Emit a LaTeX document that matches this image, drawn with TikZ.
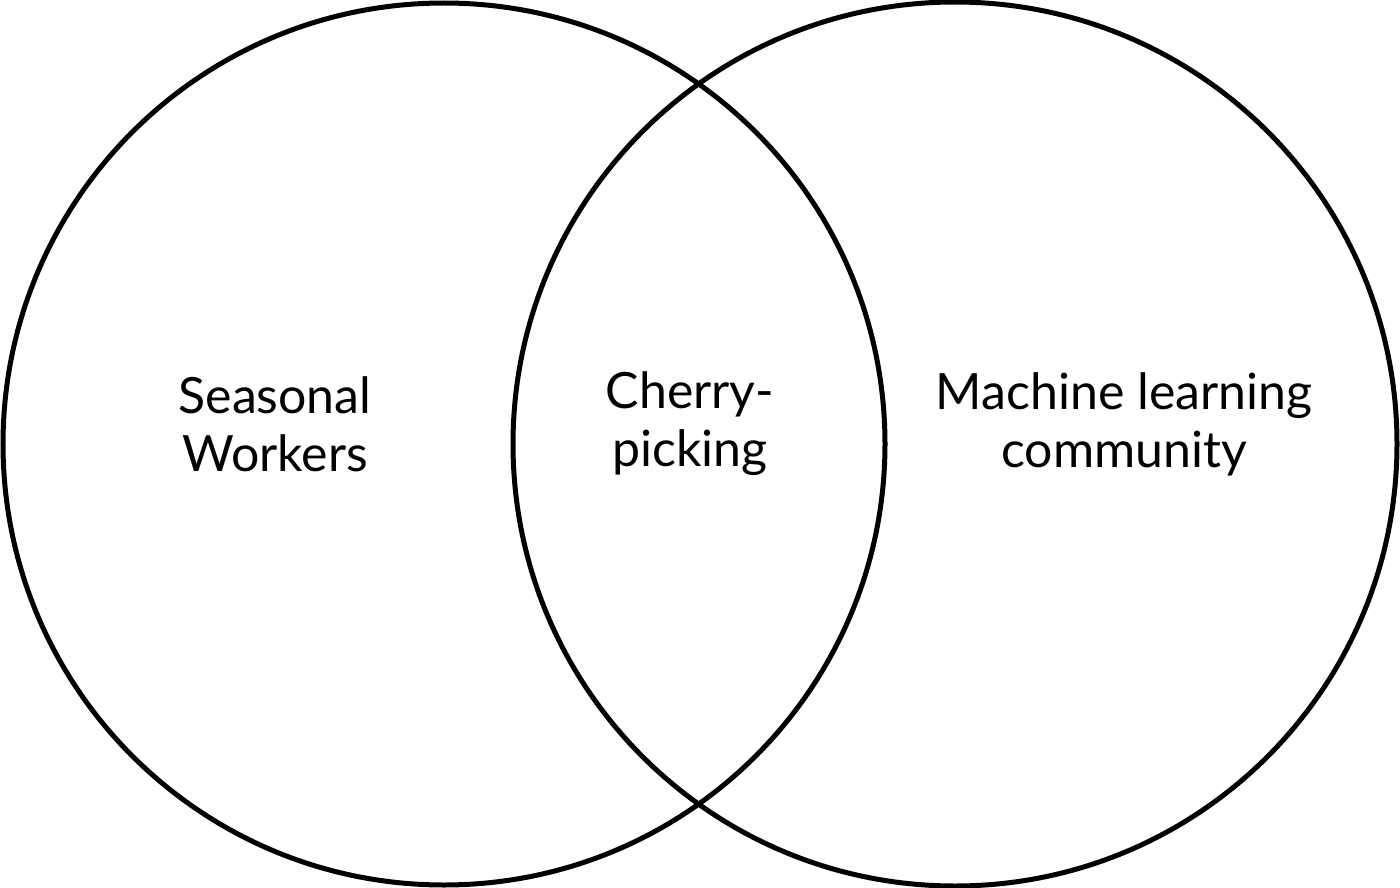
\documentclass[tikz,border=0pt]{standalone}
\usepackage{fontspec}
\setmainfont{Lato}
\begin{document}
\begin{tikzpicture}[x=1pt,y=-1pt,
  ring/.style={draw=black,line width=5pt},
  lbl/.style={align=center,font=\fontsize{50}{58}\selectfont,inner sep=0pt}]
\useasboundingbox (0,0) rectangle (1400,888);
\draw[ring] (444,444) circle (441);
\draw[ring] (955,444) circle (442);
\node[lbl] (sw) at (275,424) {Seasonal\\Workers};
\node[lbl] (cp) at (690,424) {Cherry-\\picking};
\node[lbl] (ml) at (1124,424) {Machine learning\\community};
\end{tikzpicture}
\end{document}
